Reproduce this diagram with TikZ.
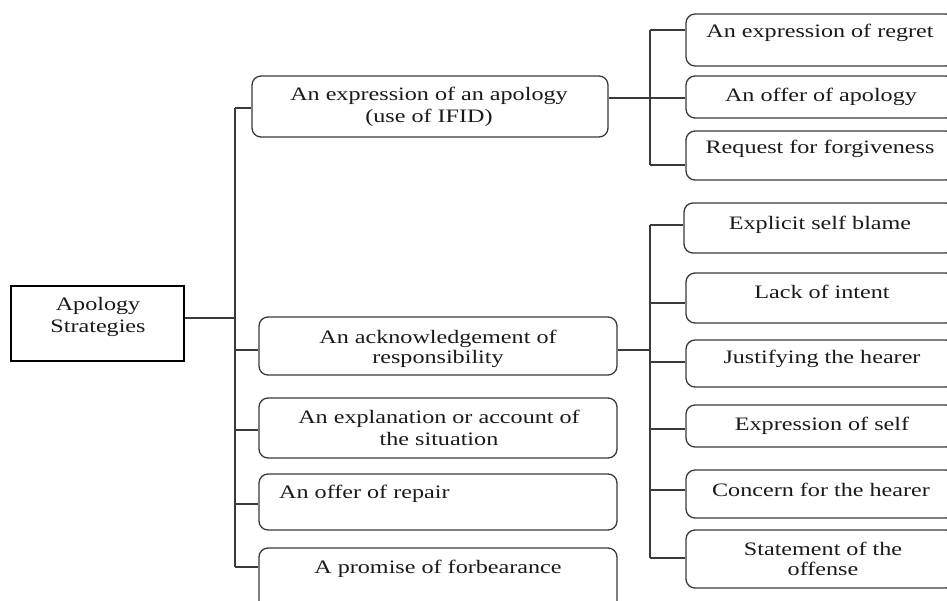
\documentclass[tikz,border=0pt]{standalone}
\usepackage{fontspec}
\setmainfont{Liberation Serif}[FakeStretch=1.27]
\definecolor{boxc}{HTML}{3A3A3A}
\definecolor{txtc}{HTML}{1A1A1A}
\begin{document}
\begin{tikzpicture}[x=1pt,y=-1pt,
  box/.style={draw=boxc, line width=1.3pt, rounded corners=9pt, inner sep=0pt},
  rootbox/.style={draw=black, line width=1.3pt, inner sep=0pt},
  lbl/.style={anchor=base, inner sep=0pt, font=\fontsize{19}{21}\selectfont, text=txtc},
  conn/.style={draw=boxc, line width=1.4pt}]
\clip (0,0) rectangle (947,600);
\fill[white] (0,0) rectangle (947,600);

% root
\node[rootbox, minimum width=173pt, minimum height=75pt] (root) at (97.5,323.5) {};
\node[lbl] (t0a) at (98,310) {Apology};
\node[lbl] (t0b) at (98,332) {Strategies};

% level 1 boxes
\node[box, minimum width=356pt, minimum height=61pt] (b1) at (430,106.5) {};
\node[box, minimum width=358pt, minimum height=58pt] (b2) at (438,346) {};
\node[box, minimum width=358pt, minimum height=60pt] (b3) at (438,428) {};
\node[box, minimum width=358pt, minimum height=56pt] (b4) at (438,502) {};
\node[box, minimum width=358pt, minimum height=72pt] (b5) at (438,584) {};

\node[lbl] (t1a) at (429,100) {An expression of an apology};
\node[lbl] (t1b) at (429,122) {(use of IFID)};
\node[lbl] (t2a) at (438,343) {An acknowledgement of};
\node[lbl] (t2b) at (438,363) {responsibility};
\node[lbl] (t3a) at (439,423) {An explanation or account of};
\node[lbl] (t3b) at (439,445) {the situation};
\node[lbl, anchor=base west] (t4) at (279,498) {An offer of repair};
\node[lbl] (t5) at (438,573) {A promise of forbearance};

% upper right boxes
\node[box, minimum width=269pt, minimum height=52pt] (r1) at (820.5,40) {};
\node[box, minimum width=269pt, minimum height=42pt] (r2) at (820.5,97) {};
\node[box, minimum width=269pt, minimum height=49pt] (r3) at (820.5,155.5) {};
\node[lbl] (tr1) at (820,37) {An expression of regret};
\node[lbl] (tr2) at (821,101) {An offer of apology};
\node[lbl] (tr3) at (820,153) {Request for forgiveness};

% lower right boxes
\node[box, minimum width=271pt, minimum height=50pt] (q1) at (819.5,228) {};
\node[box, minimum width=269pt, minimum height=50pt] (q2) at (820.5,298) {};
\node[box, minimum width=269pt, minimum height=47pt] (q3) at (820.5,363.5) {};
\node[box, minimum width=269pt, minimum height=42pt] (q4) at (820.5,426) {};
\node[box, minimum width=269pt, minimum height=48pt] (q5) at (820.5,494) {};
\node[box, minimum width=269pt, minimum height=58pt] (q6) at (820.5,559) {};
\node[lbl] (tq1) at (820,229) {Explicit self blame};
\node[lbl] (tq2) at (822,298) {Lack of intent};
\node[lbl] (tq3) at (822,363) {Justifying the hearer};
\node[lbl] (tq4) at (822,430) {Expression of self};
\node[lbl] (tq5) at (821,496) {Concern for the hearer};
\node[lbl] (tq6a) at (823,555) {Statement of the};
\node[lbl] (tq6b) at (823,575) {offense};

% left spine
\coordinate (jr) at (235,318);
\coordinate (j1) at (235,108);
\coordinate (j2) at (235,350);
\coordinate (j3) at (235,430);
\coordinate (j4) at (235,504);
\coordinate (j5) at (235,567);
\draw[conn] (jr -| root.east) -- (jr);
\draw[conn] (j1) -- (j5);
\draw[conn] (j1) -- (j1 -| b1.west);
\draw[conn] (j2) -- (j2 -| b2.west);
\draw[conn] (j3) -- (j3 -| b3.west);
\draw[conn] (j4) -- (j4 -| b4.west);
\draw[conn] (j5) -- (j5 -| b5.west);

% upper right spine
\coordinate (k1) at (650,30);
\coordinate (k2) at (650,98);
\coordinate (k3) at (650,165);
\draw[conn] (k1) -- (k3);
\draw[conn] (k1) -- (k1 -| r1.west);
\draw[conn] (k2 -| b1.east) -- (k2 -| r2.west);
\draw[conn] (k3) -- (k3 -| r3.west);

% lower right spine
\coordinate (mb) at (650,350);
\coordinate (m1) at (650,225);
\coordinate (m2) at (650,303);
\coordinate (m3) at (650,362);
\coordinate (m4) at (650,429);
\coordinate (m5) at (650,490);
\coordinate (m6) at (650,558);
\draw[conn] (m1) -- (m6);
\draw[conn] (mb -| b2.east) -- (mb);
\draw[conn] (m1) -- (m1 -| q1.west);
\draw[conn] (m2) -- (m2 -| q2.west);
\draw[conn] (m3) -- (m3 -| q3.west);
\draw[conn] (m4) -- (m4 -| q4.west);
\draw[conn] (m5) -- (m5 -| q5.west);
\draw[conn] (m6) -- (m6 -| q6.west);
\end{tikzpicture}
\end{document}
